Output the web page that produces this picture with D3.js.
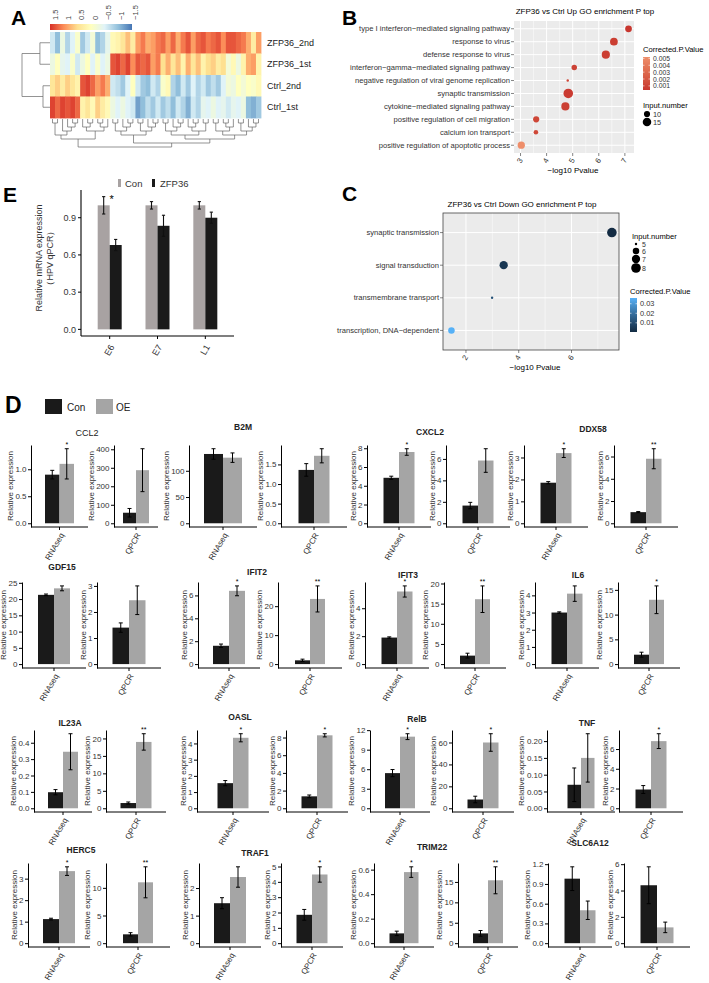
<!DOCTYPE html>
<html><head><meta charset="utf-8">
<script src="https://cdn.jsdelivr.net/npm/d3@7"></script>
<style>body{margin:0;background:#fff}svg{display:block}text{font-family:"Liberation Sans",Arial,sans-serif}</style>
</head><body>
<svg id="fig" width="709" height="983"></svg>
<script>
// ---------------- DATA ----------------
// Panel A heatmap (z-scores per column, 42 column groups)
const hmRows = ["ZFP36_2nd","ZFP36_1st","Ctrl_2nd","Ctrl_1st"];
const hmZ2 = [-0.6,-1.0,-0.3,-0.8,-0.5,-0.1,-0.9,-0.6,-0.2,-1.0,-0.8,-0.4, 0.1,0.2,0.4,0.7,0.3,0.9,1.1,0.8,0.9,1.1, 1.2,0.9,1.2,0.8,1.1,1.3,0.9,1.2,1.3,1.1, 1.2,1.3,1.0,1.3,1.3,1.2,1.1,0.8,0.3,0.9];
const hmZ1 = [-0.3,0.0,-0.4,-0.5,-0.1,-0.6,-0.3,0.0,-0.5,-0.1,-0.5,-0.3, 1.3,1.4,1.2,1.4,1.0,1.3,1.2,1.3,0.9,1.1, 0.5,0.8,0.4,0.7,0.2,0.8,0.4,0.7,0.2,0.5, 0.6,0.3,0.5,-0.2,0.1,-0.3,0.2,0.8,0.9,0.2];
const hmC2 = [0.4,0.6,0.3,0.6,0.4,0.2, 1.3,1.4,1.2,0.9,1.1,0.8, -0.6,-0.7,-0.9,-0.5,0.0,-0.6,-0.9,-1.0,-0.6,-0.8, -0.1,0.1,-0.8,-1.0,-0.6,-0.9,-0.5,-0.8,-0.6,-0.9, -0.7,-0.9,-0.5,-0.2,-0.3,0.0,-0.2,0.0,-0.1,0.1];
const hmC1 = [1.4,1.2,1.4,1.3,1.4,1.2, 0.2,0.4,0.1,0.6,0.3,0.1, -0.3,-0.5,-0.3,-0.5,-0.6,-1.2,-1.0,-0.7,-0.9,-0.6, -0.9,-0.7,-1.0,-0.6,-0.8,-1.1,-0.6,-0.8,-0.4,-0.5, -0.3,-0.5,-0.4,-0.6,-0.4,-0.5,-0.3,-1.0,-1.1,-0.9];
const hmKeyTicks = [1.5,1,0.5,0,-0.5,-1,-1.5];
const hmKeyLabels = ["1.5","1","0.5","0","\u22120.5","\u22121","\u22121.5"];
const colTree = [
  [[[0,1],[2,[3,[4,5]]]], [[6,[7,8]],[[9,10],11]]],
  [[[[12,13],[14,[15,16]]],[[17,18],[19,[20,21]]]],
   [[[[22,23],[24,[25,26]]],[[27,[28,29]],[30,31]]],
    [[[32,33],[[34,35],36]],[[37,38],[39,[40,41]]]]]]
];
const rowPairs = [[0,1],[2,3]];
const rowPairH = [0.36, 0.25];
const rowRootH = 1.0;

// Panel B
const upTerms = ["type I interferon\u2212mediated signaling pathway","response to virus","defense response to virus","interferon\u2212gamma\u2212mediated signaling pathway","negative regulation of viral genome replication","synaptic transmission","cytokine\u2212mediated signaling pathway","positive regulation of cell migration","calcium ion transport","positive regulation of apoptotic process"];
const upLogP = [7.14,6.58,6.27,5.06,4.81,4.83,4.72,3.60,3.59,3.03];
const upN = [11,13,14,9,7,18,14,10,8,12];
const upQ = [0.0004,0.0007,0.0007,0.0009,0.0011,0.0006,0.0008,0.0011,0.0012,0.0052];
const upXTicks = [3,4,5,6,7];
const upQTicks = [0.005,0.004,0.003,0.002,0.001];
const upNTicks = [10,15];

// Panel C
const downTerms = ["synaptic transmission","signal transduction","transmembrane transport","transcription, DNA\u2212dependent"];
const downLogP = [7.53,3.43,2.99,1.45];
const downN = [8,7,5,6];
const downQ = [0.0004,0.004,0.012,0.036];
const downXTicks = [2,4,6];
const downQTicks = [0.03,0.02,0.01];
const downNTicks = [5,6,7,8];

// Panel E
const eGenes = ["E6","E7","L1"];
const eCon = [1.0,1.0,1.0];
const eConErr = [0.07,0.03,0.03];
const eZfp = [0.68,0.835,0.90];
const eZfpErr = [0.045,0.085,0.045];
const eSig = ["*","",""];
const eTicks = [0,0.3,0.6,0.9];

// Panel D
const dGenes = ["CCL2","B2M","CXCL2","DDX58","GDF15","IFIT2","IFIT3","IL6","IL23A","OASL","RelB","TNF","HERC5","TRAF1","TRIM22","SLC6A12"];
const rnaCon    = [0.9,132,4.85,1.85,21.3,1.6,1.9,3.0,0.098,1.55,5.4,0.07,1.12,1.45,0.08,0.98];
const rnaConErr = [0.08,10,0.17,0.05,0.25,0.15,0.05,0.04,0.016,0.16,0.55,0.05,0.04,0.2,0.018,0.18];
const rnaOE     = [1.1,125,7.6,3.2,23.3,6.4,5.2,4.1,0.345,4.35,11.0,0.15,3.35,2.4,0.58,0.5];
const rnaOEErr  = [0.28,9,0.35,0.2,0.75,0.43,0.4,0.45,0.11,0.25,0.45,0.072,0.2,0.37,0.043,0.14];
const qCon      = [57,1.36,1.65,1.0,1.4,1.3,2.1,1.9,1.5,1.35,8,1.9,1.6,1.85,2.4,4.4];
const qConErr   = [23,0.16,0.3,0.05,0.18,0.4,0.6,0.5,0.3,0.15,3,0.4,0.3,0.35,0.7,1.4];
const qOE       = [287,1.72,5.85,5.8,2.45,22.5,16.1,13.0,19,8.25,60,6.8,11.0,4.48,15.4,1.2];
const qOEErr    = [116,0.18,1.1,0.9,0.55,4.5,3.3,2.8,2.35,0.18,8,0.75,2.8,0.5,3.3,0.4];
const rnaSig = ["*","","*","*","","*","*","","","*","*","","*","","*",""];
const qSig   = ["","","","**","","**","**","*","**","*","*","*","**","*","**",""];
const rnaStep = [0.5,50,2,1,5,2,2,1,0.1,1,3,0.05,1,1,0.2,0.3];
const qStep   = [100,0.5,2,2,1,10,5,5,5,2,20,2,5,1,5,2];
const dGroups = ["Con","OE"];

// ---------------- LAYOUT ----------------
const L = {
  dRowBottom:[527,668,812,947], dRowTop:[445,582,730,863],
  dRnaX:[31,189,367,524, 22,198,365,535, 34,197,370,547, 28,199,374,548],
  dQX:[114,281,446,614, 97,278,444,618, 106,286,452,619, 106,281,458,624],
  dRnaOff:[28.5,34,32,32, 32,31,32,32, 29,36,30,34, 31,31,30,32],
  dQOff:[22,33,32,32, 32,32,31,31, 30,31,31,32, 32,31,30,33],
  dRnaW:[29,38,31,31, 32,32,31,31, 30,31,30,27, 32,32,29,31],
  dQW:[26,31,31,31, 33,30,30,30, 31,31,31,31, 30,31,30,33],
  dTitleX:[87,243,430,593, 62,257,408,578, 70,240,417,587, 81,255,432,590],
  dTitleY:[436,430,435,432, 570,575,578,578, 726,720,722,726, 853,856,850,846]
};

const svg = d3.select("#fig");
svg.append("defs");
function txt(g,x,y,s,o={}){
  const t=g.append("text").attr("x",x).attr("y",y).text(s)
   .attr("font-size",o.size||8).attr("fill",o.fill||"#000")
   .attr("text-anchor",o.anchor||"start").attr("font-weight",o.weight||"normal");
  if(o.rotate) t.attr("transform",`rotate(${o.rotate},${x},${y})`);
  return t;
}
function line(g,x1,y1,x2,y2,c,w){return g.append("line").attr("x1",x1).attr("y1",y1).attr("x2",x2).attr("y2",y2).attr("stroke",c||"#000").attr("stroke-width",w||1);}

// panel letters
txt(svg,11,25,"A",{size:21,weight:"bold"});
txt(svg,342,25,"B",{size:21,weight:"bold"});
txt(svg,342,201,"C",{size:21,weight:"bold"});
txt(svg,3,202,"E",{size:21,weight:"bold"});
txt(svg,5,413,"D",{size:23,weight:"bold"});

// ---------------- PANEL A ----------------
(function(){
  const g=svg.append("g");
  const keyColors=["#D73027","#FC8D59","#FEE090","#FFFFBF","#E0F3F8","#91BFDB","#4575B4"];
  const hcol=d3.scaleLinear().domain(hmKeyTicks).range(keyColors).clamp(true);
  const hmData=[hmZ2,hmZ1,hmC2,hmC1];
  const hx=d3.scaleBand().domain(d3.range(hmZ2.length)).range([50,261]);
  const hy=d3.scaleBand().domain(hmRows).range([32,118]);
  hmRows.forEach((r,ri)=>{
    g.append("g").selectAll("rect").data(hmData[ri]).join("rect")
     .attr("x",(d,i)=>hx(i)).attr("y",hy(r)).attr("width",hx.bandwidth()+0.4).attr("height",hy.bandwidth()+0.4)
     .attr("fill",d=>hcol(d));
    txt(g,267,hy(r)+hy.bandwidth()/2+3,r,{size:9,fill:"#222"});
  });
  // key
  const kx=d3.scaleLinear().domain([1.5,-1.5]).range([55,135]);
  const grad=svg.select("defs").append("linearGradient").attr("id","hmkey");
  hmKeyTicks.forEach((v,i)=>grad.append("stop").attr("offset",(i/(hmKeyTicks.length-1)*100)+"%").attr("stop-color",hcol(v)));
  g.append("rect").attr("x",50).attr("y",24).attr("width",82).attr("height",6).attr("fill","url(#hmkey)");
  hmKeyTicks.forEach((v,i)=>txt(g,kx(v)+2.5,20,hmKeyLabels[i],{size:7.5,fill:"#444",rotate:-90}));
  // column dendrogram
  const root=d3.hierarchy(colTree,d=>Array.isArray(d)?d:null);
  root.eachAfter(n=>{n.px=n.children?d3.mean(n.children,c=>c.px):hx(n.data)+hx.bandwidth()/2;});
  const hs=d3.scaleLinear().domain([0,root.height]).range([119,147]);
  const dg=g.append("g");
  root.each(n=>{
    if(!n.children) return;
    const y=hs(n.height);
    line(dg,d3.min(n.children,c=>c.px),y,d3.max(n.children,c=>c.px),y,"#666",0.7);
    n.children.forEach(c=>line(dg,c.px,hs(c.height),c.px,y,"#666",0.7));
  });
  // row dendrogram
  const rs=d3.scaleLinear().domain([0,rowRootH]).range([50,22]);
  const rc=i=>hy(hmRows[i])+hy.bandwidth()/2;
  const mids=[];
  rowPairs.forEach((p,k)=>{
    const x=rs(rowPairH[k]);
    line(dg,x,rc(p[0]),x,rc(p[1]),"#666",0.7);
    p.forEach(i=>line(dg,x,rc(i),50,rc(i),"#666",0.7));
    mids.push([x,(rc(p[0])+rc(p[1]))/2]);
  });
  const xr=rs(rowRootH);
  line(dg,xr,mids[0][1],xr,mids[1][1],"#666",0.7);
  mids.forEach(m=>line(dg,xr,m[1],m[0],m[1],"#666",0.7));
})();

// ---------------- GO dot panels ----------------
function sizeFn(ext,rmin,rmax){const t=d3.scaleLinear().domain(ext).range([0,1]).clamp(true);return n=>rmin+(rmax-rmin)*Math.sqrt(t(n));}
function goPanel(o){
  const g=svg.append("g");
  const x=d3.scaleLinear().domain(o.xDom).range([o.x0,o.x1]);
  const y=d3.scalePoint().domain(o.terms).range([o.y0,o.y1]).padding(0.6);
  g.append("rect").attr("x",o.x0).attr("y",o.y0).attr("width",o.x1-o.x0).attr("height",o.y1-o.y0).attr("fill","#EBEBEB");
  o.minor.forEach(v=>line(g,x(v),o.y0,x(v),o.y1,"#fff",0.5));
  o.xTicks.forEach(v=>line(g,x(v),o.y0,x(v),o.y1,"#fff",1));
  o.terms.forEach(t=>line(g,o.x0,y(t),o.x1,y(t),"#fff",1));
  if(o.border) g.append("rect").attr("x",o.x0).attr("y",o.y0).attr("width",o.x1-o.x0).attr("height",o.y1-o.y0).attr("fill","none").attr("stroke","#444").attr("stroke-width",0.8);
  const rF=sizeFn(d3.extent(o.n),1.2,4.8);
  const qExt=d3.extent(o.q);
  const col=d3.scaleLinear().domain(qExt).range(o.colors).interpolate(d3.interpolateLab);
  g.selectAll("circle.pt").data(o.terms).join("circle").attr("class","pt")
   .attr("cx",(d,i)=>x(o.p[i])).attr("cy",d=>y(d)).attr("r",(d,i)=>rF(o.n[i])).attr("fill",(d,i)=>col(o.q[i]));
  o.terms.forEach(t=>{line(g,o.x0-3,y(t),o.x0,y(t),"#333",0.6);txt(g,o.x0-4,y(t)+2.6,t,{size:7.6,fill:"#333",anchor:"end"});});
  o.xTicks.forEach(v=>{line(g,x(v),o.y1,x(v),o.y1+3,"#333",0.6);txt(g,x(v)+2.5,o.y1+7,String(v),{size:7.6,fill:"#333",anchor:"end",rotate:-60});});
  txt(g,(o.x0+o.x1)/2+o.axTitleDx,o.axTitleY,"\u2212log10 Pvalue",{size:8,anchor:"middle"});
  txt(g,o.titleX,o.titleY,o.title,{size:8,anchor:"middle"});
  // legends
  const id="grad"+o.id;
  const gr=svg.select("defs").append("linearGradient").attr("id",id).attr("x1",0).attr("y1",1).attr("x2",0).attr("y2",0);
  d3.range(0,1.01,0.1).forEach(f=>gr.append("stop").attr("offset",(f*100)+"%").attr("stop-color",col(qExt[0]+f*(qExt[1]-qExt[0]))));
  const cl=o.colLeg;
  txt(g,cl.x,cl.y,"Corrected.P.Value",{size:7.6});
  g.append("rect").attr("x",cl.x).attr("y",cl.b0).attr("width",7).attr("height",cl.b1-cl.b0).attr("fill",`url(#${id})`);
  const ly=d3.scaleLinear().domain(qExt).range([cl.b1,cl.b0]);
  o.qTicks.forEach(v=>{line(g,cl.x,ly(v),cl.x+1.5,ly(v),"#fff",0.6);line(g,cl.x+5.5,ly(v),cl.x+7,ly(v),"#fff",0.6);txt(g,cl.x+10,ly(v)+2.5,String(v),{size:cl.fs||7.4,fill:"#333"});});
  const nl=o.nLeg;
  txt(g,nl.x,nl.y,"Input.number",{size:7.6});
  o.nTicks.forEach((v,i)=>{g.append("circle").attr("cx",nl.x+4).attr("cy",nl.ys[i]).attr("r",rF(v)).attr("fill","#000");txt(g,nl.x+10,nl.ys[i]+2.6,String(v),{size:nl.fs||7.4,fill:"#333"});});
}
goPanel({id:"B",terms:upTerms,p:upLogP,n:upN,q:upQ,xDom:[2.75,7.35],x0:514,x1:634,y0:21,y1:153,
  minor:[3.5,4.5,5.5,6.5],xTicks:upXTicks,border:false,colors:["#C8372F","#EE8E6A"],
  title:"ZFP36 vs Ctrl Up GO enrichment P top",titleX:585,titleY:14,axTitleY:173,axTitleDx:-1,
  qTicks:upQTicks,nTicks:upNTicks,colLeg:{x:643,y:52,b0:57,b1:90,fs:6.8},nLeg:{x:643,y:108,ys:[114,122],fs:7.4}});
goPanel({id:"C",terms:downTerms,p:downLogP,n:downN,q:downQ,xDom:[1.13,7.8],x0:443,x1:619,y0:213,y1:350,
  minor:[3,5,7],xTicks:downXTicks,border:true,colors:["#132B43","#56B1F7"],
  title:"ZFP36 vs Ctrl Down GO enrichment P top",titleX:522,titleY:207,axTitleY:370,axTitleDx:4,
  qTicks:downQTicks,nTicks:downNTicks,colLeg:{x:630,y:294,b0:298,b1:332},nLeg:{x:632,y:239,ys:[244,251,259,268],fs:7}});

// ---------------- PANEL E ----------------
(function(){
  const g=svg.append("g");
  const x=d3.scalePoint().domain(eGenes).range([81,234]).padding(0.6);
  const top=d3.max(eCon.map((v,i)=>Math.max(v+eConErr[i],eZfp[i]+eZfpErr[i])));
  const y=d3.scaleLinear().domain([-0.05*top,1.05*top]).range([336,190]);
  const bw=12;
  eGenes.forEach((gn,i)=>{
    const c=x(gn);
    g.append("rect").attr("x",c-bw).attr("y",y(eCon[i])).attr("width",bw).attr("height",y(0)-y(eCon[i])).attr("fill","#A8A2A2");
    g.append("rect").attr("x",c).attr("y",y(eZfp[i])).attr("width",bw).attr("height",y(0)-y(eZfp[i])).attr("fill","#1A1A1A");
    [[c-bw/2,eCon[i],eConErr[i]],[c+bw/2,eZfp[i],eZfpErr[i]]].forEach(([cx,v,e])=>{
      line(g,cx,y(v-e),cx,y(v+e),"#111",1.1);
      line(g,cx-1.6,y(v+e),cx+1.6,y(v+e),"#111",1.1);
      line(g,cx-1.6,y(v-e),cx+1.6,y(v-e),"#111",1.1);
    });
    if(eSig[i]) txt(g,c+2,y(eCon[i]+eConErr[i])+6,eSig[i],{size:11,anchor:"middle"});
    line(g,c,336,c,339,"#000",1);
    txt(g,c+5,347,gn,{size:9,fill:"#333",anchor:"end",rotate:-60});
  });
  line(g,81,336,234,336,"#000",1.1);
  line(g,81,190,81,336,"#000",1.1);
  eTicks.forEach(v=>{line(g,78,y(v),81,y(v),"#000",1);txt(g,76,y(v)+3.2,d3.format(".1f")(v),{size:9,fill:"#333",anchor:"end"});});
  txt(g,42,258,"Relative mRNA expression",{size:9,fill:"#333",anchor:"middle",rotate:-90});
  txt(g,53,258,"\uFF08HPV qPCR\uFF09",{size:9,fill:"#333",anchor:"middle",rotate:-90});
  // legend
  g.append("rect").attr("x",118).attr("y",179).attr("width",3).attr("height",8).attr("fill","#A8A2A2");
  txt(g,125,187,"Con",{size:9.5,fill:"#333"});
  g.append("rect").attr("x",152).attr("y",179).attr("width",3).attr("height",8).attr("fill","#1A1A1A");
  txt(g,160,187,"ZFP36",{size:9.5,fill:"#333"});
})();

// ---------------- PANEL D ----------------
(function(){
  const g=svg.append("g");
  const dCol={Con:"#1A1A1A",OE:"#A5A5A5"};
  g.append("rect").attr("x",45).attr("y",399).attr("width",17).attr("height",15).attr("fill",dCol.Con);
  txt(g,67,411,"Con",{size:10,fill:"#222"});
  g.append("rect").attr("x",96).attr("y",399).attr("width",17).attr("height",15).attr("fill",dCol.OE);
  txt(g,116,411,"OE",{size:10,fill:"#222"});
  function mini(x0,off,w,yb,yt,vals,errs,sig,cat,step){
    const gg=g.append("g");
    const M=d3.max(vals.map((v,i)=>v+errs[i]));
    const y=d3.scaleLinear().domain([-0.05*M,1.05*M]).range([yb,yt]);
    const cx0=x0+off;
    const xb=d3.scaleBand().domain(dGroups).range([cx0-w/2,cx0+w/2]);
    dGroups.forEach((k,i)=>{
      gg.append("rect").attr("x",xb(k)).attr("y",y(vals[i])).attr("width",xb.bandwidth()).attr("height",y(0)-y(vals[i])).attr("fill",dCol[k]);
    });
    dGroups.forEach((k,i)=>{
      const cx=xb(k)+xb.bandwidth()/2, v=vals[i], e=errs[i];
      line(gg,cx,y(Math.max(v-e,0)),cx,y(v+e),"#000",1);
      line(gg,cx-2,y(v+e),cx+2,y(v+e),"#000",1);
      if(v-e>0) line(gg,cx-2,y(v-e),cx+2,y(v-e),"#000",1);
    });
    if(sig) txt(gg,xb("OE")+xb.bandwidth()/2,y(vals[1]+errs[1])-1.5,sig,{size:7,anchor:"middle"});
    const ticks=d3.range(0,1.05*M+1e-9,step);
    const prec=d3.precisionFixed(step);
    const ax=gg.append("g").attr("transform",`translate(${x0},0)`)
      .call(d3.axisLeft(y).tickValues(ticks).tickSize(3).tickSizeOuter(0).tickFormat(d3.format(`.${prec}f`)));
    ax.select(".domain").attr("stroke","#000").attr("stroke-width",1);
    ax.selectAll(".tick line").attr("stroke","#000");
    ax.selectAll(".tick text").attr("font-size",8).attr("fill","#333").attr("font-family",'"Liberation Sans",Arial,sans-serif').attr("x",-4.5);
    const bb=ax.node().getBBox();
    txt(gg,x0+bb.x-2.5,(yb+yt)/2,"Relative expression",{size:8,fill:"#333",anchor:"middle",rotate:-90});
    line(gg,x0,yb,x0+2*off,yb,"#000",1);
    line(gg,cx0,yb,cx0,yb+3,"#000",1);
    txt(gg,cx0+5,yb+8,cat,{size:8,fill:"#333",anchor:"end",rotate:-60});
  }
  dGenes.forEach((gn,i)=>{
    const r=Math.floor(i/4), yb=L.dRowBottom[r], yt=L.dRowTop[r];
    mini(L.dRnaX[i],L.dRnaOff[i],L.dRnaW[i],yb,yt,[rnaCon[i],rnaOE[i]],[rnaConErr[i],rnaOEErr[i]],rnaSig[i],"RNAseq",rnaStep[i]);
    mini(L.dQX[i],L.dQOff[i],L.dQW[i],yb,yt,[qCon[i],qOE[i]],[qConErr[i],qOEErr[i]],qSig[i],"QPCR",qStep[i]);
    const isPlain=(gn==="CCL2");
    txt(g,L.dTitleX[i],L.dTitleY[i],gn,{size:isPlain?9:8.5,weight:isPlain?"normal":"bold",anchor:"middle",fill:"#222"});
  });
})();
</script>
</body></html>
